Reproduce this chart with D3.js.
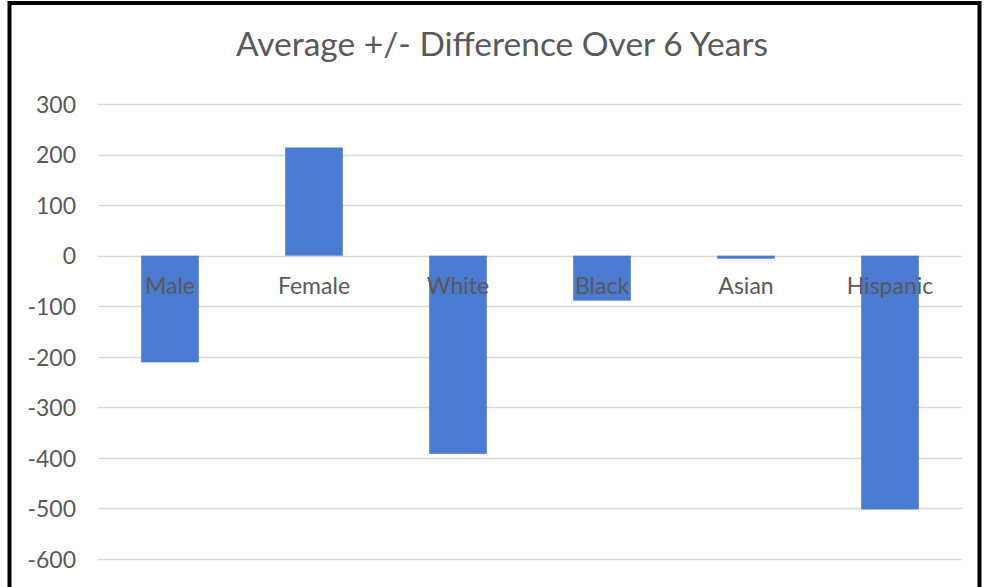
<!DOCTYPE html>
<html>
<head>
<meta charset="utf-8">
<script src="https://cdn.jsdelivr.net/npm/d3@7"></script>
<style>
  html, body { margin: 0; padding: 0; background: #ffffff; }
  svg { display: block; }
  text { font-family: Lato, "Open Sans", sans-serif; fill: #595959; }
</style>
</head>
<body>
<script>
// Average change per group over six years
const categories = ["Male", "Female", "White", "Black", "Asian", "Hispanic"];
const values = [-211, 214, -392, -89, -6, -502];
const yTicks = [300, 200, 100, 0, -100, -200, -300, -400, -500, -600];
const title = "Average +/- Difference Over 6 Years";

const width = 984, height = 587;
const plot = { left: 98, right: 962, top: 104, bottom: 559 };

const svg = d3.select("body").append("svg")
  .attr("width", width)
  .attr("height", height);

svg.append("rect")
  .attr("width", width).attr("height", height)
  .attr("fill", "#ffffff");

const x = d3.scaleBand()
  .domain(categories)
  .range([plot.left, plot.right])
  .paddingInner(0.6)
  .paddingOuter(0.3);

const y = d3.scaleLinear()
  .domain([-600, 300])
  .range([plot.bottom, plot.top]);

// Horizontal gridlines
svg.append("g")
  .selectAll("line")
  .data(yTicks)
  .join("line")
  .attr("x1", plot.left)
  .attr("x2", plot.right)
  .attr("y1", d => Math.round(y(d)) + 0.5)
  .attr("y2", d => Math.round(y(d)) + 0.5)
  .attr("stroke", "#d9d9d9")
  .attr("stroke-width", 1.3);

// Value axis labels (plain hyphen for negatives)
const yAxis = d3.axisLeft(y)
  .tickValues(yTicks)
  .tickSize(0)
  .tickPadding(0)
  .tickFormat(d => String(d));

const yG = svg.append("g")
  .attr("transform", "translate(76,0)")
  .call(yAxis);
yG.select(".domain").remove();
yG.selectAll("text")
  .attr("font-size", 23)
  .attr("font-family", "Lato, 'Open Sans', sans-serif")
  .attr("fill", "#595959")
  .attr("dy", "0.36em");

// Bars
svg.append("g")
  .selectAll("rect")
  .data(categories.map((c, i) => ({ c, v: values[i] })))
  .join("rect")
  .attr("x", d => x(d.c))
  .attr("width", x.bandwidth())
  .attr("y", d => Math.min(y(d.v), y(0)))
  .attr("height", d => Math.abs(y(d.v) - y(0)))
  .attr("fill", "#4a7bd0");

// Category labels sit just below the zero line
const xAxis = d3.axisBottom(x).tickSize(0).tickPadding(0);
const xG = svg.append("g")
  .attr("transform", `translate(0,${y(0)})`)
  .call(xAxis);
xG.select(".domain").remove();
xG.selectAll("text")
  .attr("font-size", 23)
  .attr("font-family", "Lato, 'Open Sans', sans-serif")
  .attr("fill", "#595959")
  .attr("dy", null)
  .attr("y", 38);

// Title
svg.append("text")
  .attr("x", 502)
  .attr("y", 56)
  .attr("text-anchor", "middle")
  .attr("font-size", 33.5)
  .text(title);

// Outer frame
svg.append("rect")
  .attr("x", 9.5)
  .attr("y", 3)
  .attr("width", 970)
  .attr("height", 620)
  .attr("fill", "none")
  .attr("stroke", "#000000")
  .attr("stroke-width", 4);
</script>
</body>
</html>
